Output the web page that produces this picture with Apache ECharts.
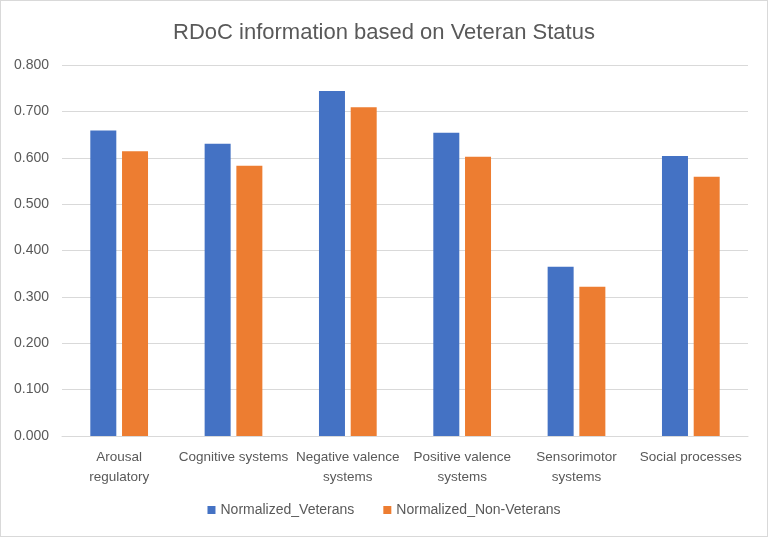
<!DOCTYPE html>
<html>
<head>
<meta charset="utf-8">
<script src="https://cdn.jsdelivr.net/npm/echarts@6/dist/echarts.min.js"></script>
<style>
	html, body { margin: 0; padding: 0; background: #fff; }
	#main { width: 766px; height: 535px; border: 1px solid #d9d9d9; }
</style>
</head>
<body>
<div id="main"></div>
<script>
// RDoC domains on the x axis
const categories = [
	'Arousal\nregulatory',
	'Cognitive systems',
	'Negative valence\nsystems',
	'Positive valence\nsystems',
	'Sensorimotor\nsystems',
	'Social processes'
];
const veterans = [0.659, 0.630, 0.744, 0.654, 0.365, 0.604];
const nonVeterans = [0.614, 0.583, 0.709, 0.602, 0.322, 0.559];
const seriesNames = ['Normalized_Veterans', 'Normalized_Non-Veterans'];

const FONT = '"Liberation Sans", Arial, sans-serif';
const TEXT_COLOR = '#595959';

let myChart = echarts.init(document.getElementById('main'));

let option = {
	animation: false,
	textStyle: { fontFamily: FONT },
	title: {
		text: 'RDoC information based on Veteran Status',
		left: 'center',
		top: 16,
		textStyle: {
			color: TEXT_COLOR,
			fontSize: 22,
			fontWeight: 'normal',
			fontFamily: FONT
		}
	},
	grid: {
		left: 61,
		right: 19,
		top: 64,
		bottom: 100
	},
	legend: {
		bottom: 14,
		left: 'center',
		itemWidth: 8,
		itemHeight: 8,
		itemGap: 29,
		icon: 'rect',
		textStyle: { color: TEXT_COLOR, fontSize: 14, fontFamily: FONT },
		data: seriesNames
	},
	xAxis: {
		type: 'category',
		data: categories,
		axisLine: { lineStyle: { color: '#d9d9d9' } },
		axisTick: { show: false },
		axisLabel: {
			color: TEXT_COLOR,
			fontSize: 13.5,
			lineHeight: 20,
			margin: 11,
			interval: 0
		}
	},
	yAxis: {
		type: 'value',
		min: 0,
		max: 0.8,
		interval: 0.1,
		axisLine: { show: false },
		axisTick: { show: false },
		splitLine: { lineStyle: { color: '#d9d9d9' } },
		axisLabel: {
			color: TEXT_COLOR,
			fontSize: 14,
			margin: 13,
			formatter: function (v) {
				return v.toFixed(3);
			}
		}
	},
	series: [{
		name: seriesNames[0],
		type: 'bar',
		data: veterans,
		barWidth: 26,
		barGap: '22%',
		itemStyle: { color: '#4472c4' }
	}, {
		name: seriesNames[1],
		type: 'bar',
		data: nonVeterans,
		barWidth: 26,
		itemStyle: { color: '#ed7d31' }
	}]
};

myChart.setOption(option);
</script>
</body>
</html>
